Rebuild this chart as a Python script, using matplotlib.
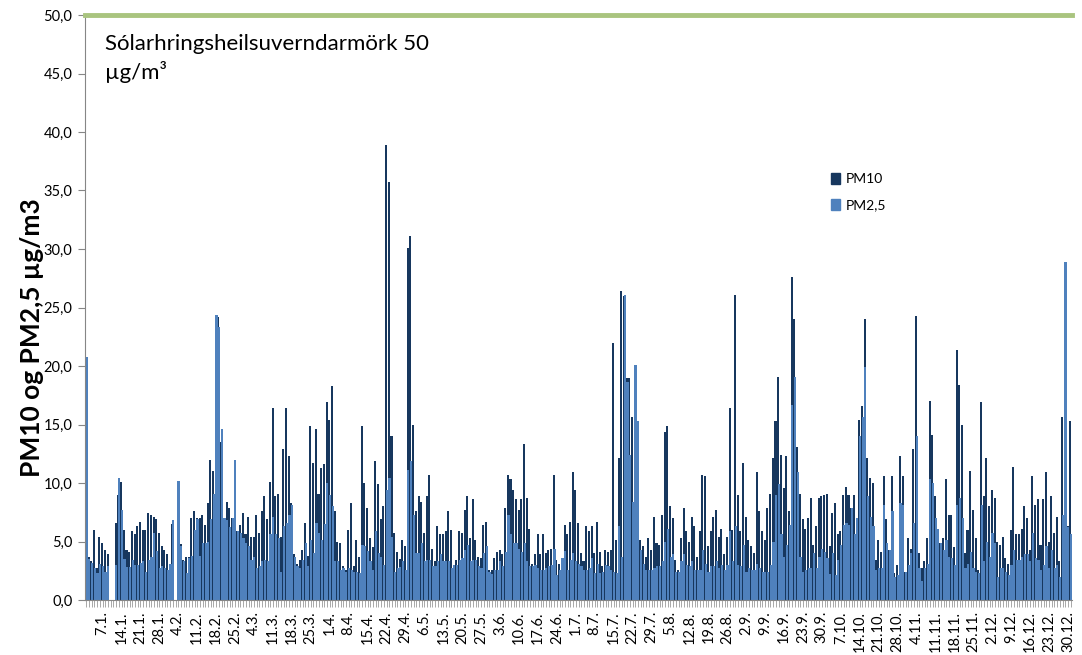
import matplotlib
matplotlib.use('Agg')
import datetime
import numpy as np
import matplotlib.pyplot as plt
from matplotlib.patches import Patch

plt.rcParams['font.family'] = ['Lato', 'DejaVu Sans']

# daily means, one value per day of a non-leap year (0 = no data)
pm10_jan = [18.5, 3.7, 3.3, 6.0, 2.7, 5.4, 4.9, 4.3, 3.9, 0, 0, 6.6, 9.0, 10.1, 6.0, 4.3,
            4.1, 5.9, 5.6, 6.3, 6.7, 6.0, 6.0, 7.4, 7.3, 7.1, 6.9, 5.7, 4.6, 4.3, 3.9]
pm10_feb = [3.1, 6.5, 0, 8.0, 4.8, 3.4, 3.7, 3.7, 7.0, 7.6, 7.0, 7.0, 7.3, 6.4, 8.3, 12.0,
            11.0, 24.0, 24.2, 13.5, 7.0, 8.4, 7.9, 7.0, 10.6, 5.9, 6.4, 7.4]
pm10_mar = [5.6, 7.1, 5.4, 5.4, 7.3, 5.7, 7.6, 8.9, 6.9, 10.1, 16.4, 8.9, 9.1, 5.4, 12.9, 16.4,
            12.3, 8.3, 3.9, 3.1, 3.4, 4.3, 6.6, 3.8, 14.9, 11.7, 14.6, 9.1, 11.3, 11.6, 16.9]
pm10_apr = [15.4, 18.3, 7.6, 5.0, 4.9, 2.9, 2.6, 6.0, 8.3, 2.9, 5.1, 3.7, 14.9, 10.0, 7.9,
            5.3, 4.5, 11.9, 9.9, 6.9, 8.0, 38.9, 35.7, 14.0, 5.7, 4.1, 3.5, 5.1, 4.6, 30.1]
pm10_may = [31.1, 15.0, 7.6, 8.9, 8.4, 5.7, 8.9, 10.7, 4.4, 3.3, 6.3, 5.6, 5.6, 5.9, 7.6, 6.0,
            3.0, 3.4, 5.9, 5.7, 7.7, 8.9, 5.3, 8.6, 5.1, 3.7, 3.6, 6.4, 6.7, 2.6, 2.6]
pm10_jun = [3.6, 4.1, 4.3, 3.9, 7.9, 10.7, 10.3, 9.4, 8.6, 7.7, 8.6, 13.3, 8.7, 6.1, 3.1,
            3.9, 5.6, 3.9, 5.6, 4.0, 4.3, 4.4, 10.7, 3.4, 3.1, 3.6, 6.4, 5.6, 6.7, 10.9]
pm10_jul = [9.4, 6.6, 4.0, 3.3, 6.3, 5.9, 6.3, 4.0, 6.7, 4.1, 2.9, 4.3, 4.1, 4.3, 22.0, 5.1,
            12.1, 26.4, 26.0, 19.0, 19.0, 15.6, 15.0, 14.0, 5.1, 4.6, 3.7, 5.3, 4.3, 7.1, 4.9]
pm10_aug = [4.7, 7.3, 14.4, 14.9, 8.0, 7.0, 3.4, 2.6, 5.3, 7.9, 5.9, 5.0, 7.1, 6.3, 3.7, 5.9,
            10.7, 10.6, 4.6, 5.9, 7.1, 7.7, 5.4, 6.1, 3.9, 5.4, 16.4, 6.0, 26.1, 9.0, 5.9]
pm10_sep = [11.7, 7.1, 5.1, 4.6, 4.0, 10.9, 7.6, 5.9, 5.1, 7.9, 9.1, 12.1, 15.3, 19.1, 12.4,
            9.6, 12.3, 7.6, 27.6, 24.0, 13.1, 9.1, 6.9, 6.1, 7.0, 8.7, 4.7, 6.3, 8.7, 8.9]
pm10_oct = [9.0, 9.1, 4.6, 7.4, 8.3, 5.6, 5.9, 9.0, 9.7, 9.0, 7.9, 9.0, 7.0, 15.4, 16.6, 24.0,
            12.1, 10.4, 10.0, 3.4, 5.1, 4.1, 10.6, 6.9, 4.3, 10.6, 2.3, 3.0, 12.3, 10.6, 2.4]
pm10_nov = [5.3, 4.4, 12.9, 24.3, 4.0, 2.7, 3.3, 5.3, 17.0, 14.1, 8.9, 5.3, 4.9, 5.3, 10.3,
            7.3, 7.3, 4.5, 21.4, 18.4, 15.0, 4.0, 6.0, 11.0, 7.7, 5.3, 2.6, 16.9, 8.9, 12.1]
pm10_dec = [8.0, 9.4, 8.7, 5.0, 4.7, 5.4, 3.6, 3.1, 6.0, 11.4, 5.6, 5.6, 6.1, 8.0, 7.0, 4.3,
            10.6, 8.1, 8.6, 4.7, 8.6, 10.9, 5.0, 8.9, 5.7, 7.1, 3.3, 15.6, 6.0, 6.3, 15.3]

pm25_jan = [20.8, 3.5, 3.2, 2.7, 2.3, 3.1, 2.9, 2.4, 2.9, 0, 0, 3.0, 10.4, 7.7, 3.5, 2.8,
            2.8, 3.4, 3.0, 3.0, 3.2, 3.3, 2.4, 3.4, 3.7, 5.7, 4.2, 2.7, 2.9, 2.7, 2.6]
pm25_feb = [3.1, 6.8, 0, 10.2, 4.6, 3.3, 2.3, 3.6, 3.8, 6.0, 6.9, 3.8, 4.9, 4.9, 5.0, 6.9,
            9.1, 24.4, 23.3, 14.6, 7.0, 6.8, 6.2, 7.0, 12.0, 5.9, 5.7, 5.3]
pm25_mar = [4.9, 4.6, 3.4, 3.7, 2.7, 2.9, 3.3, 3.4, 3.3, 5.6, 7.1, 5.6, 5.3, 2.4, 6.3, 6.6,
            7.3, 8.1, 3.7, 2.9, 2.7, 3.4, 4.9, 2.9, 5.1, 4.0, 6.6, 5.7, 5.1, 6.5, 10.0]
pm25_apr = [9.0, 8.0, 3.3, 3.3, 2.6, 2.7, 2.4, 2.7, 2.6, 2.4, 2.4, 2.3, 4.7, 4.6, 4.2, 3.3,
            2.6, 5.9, 4.0, 3.7, 3.0, 9.4, 10.4, 5.4, 2.4, 2.7, 2.8, 3.3, 2.6, 11.1]
pm25_may = [11.9, 7.3, 4.0, 4.0, 4.9, 3.3, 3.4, 3.4, 2.9, 2.9, 3.3, 3.9, 3.3, 3.3, 3.3, 2.7,
            3.0, 3.0, 3.4, 3.6, 4.3, 4.7, 3.3, 3.4, 3.4, 2.9, 2.7, 4.0, 4.6, 2.4, 2.2]
pm25_jun = [2.6, 2.6, 3.3, 2.9, 4.1, 7.3, 5.6, 4.9, 4.9, 4.4, 4.1, 4.9, 3.3, 2.9, 2.9, 3.0,
            2.7, 2.6, 2.6, 2.7, 2.9, 3.0, 4.4, 2.1, 2.6, 3.6, 4.2, 2.6, 3.4, 4.0]
pm25_jul = [3.3, 3.1, 2.9, 2.6, 2.6, 2.7, 3.6, 2.3, 3.1, 2.3, 2.4, 3.0, 2.9, 2.6, 2.4, 2.3,
            6.3, 3.7, 26.1, 18.6, 12.4, 8.4, 20.1, 15.3, 4.3, 3.1, 2.6, 2.6, 2.6, 2.7, 2.9]
pm25_aug = [2.9, 3.3, 5.0, 6.1, 3.7, 3.9, 2.4, 2.4, 3.3, 3.9, 3.0, 2.9, 3.3, 2.6, 2.6, 2.6,
            4.3, 3.1, 2.4, 2.9, 2.9, 3.3, 2.7, 3.0, 2.6, 3.0, 5.9, 3.3, 6.3, 3.0, 2.9]
pm25_sep = [4.7, 2.4, 2.7, 2.6, 2.6, 3.1, 2.7, 2.4, 2.4, 2.4, 3.0, 5.0, 9.0, 9.9, 5.6, 3.7,
            4.7, 6.4, 16.7, 19.1, 10.9, 3.7, 2.4, 2.6, 2.7, 2.7, 4.0, 2.7, 3.7, 4.4]
pm25_oct = [4.1, 3.6, 2.2, 4.0, 2.1, 3.4, 4.7, 6.4, 6.6, 6.4, 7.9, 5.6, 7.0, 14.0, 15.6, 19.9,
            8.9, 7.1, 6.3, 2.6, 2.7, 2.7, 8.1, 4.9, 4.3, 7.6, 2.0, 2.1, 8.3, 8.1, 2.4]
pm25_nov = [3.0, 4.0, 6.6, 14.0, 2.7, 1.6, 2.7, 3.1, 10.3, 10.0, 7.0, 6.1, 4.9, 4.3, 5.1,
            3.7, 3.6, 3.0, 8.1, 8.7, 7.0, 2.7, 3.1, 4.1, 2.7, 2.4, 2.3, 8.1, 3.3, 5.0]
pm25_dec = [3.7, 5.7, 4.9, 2.0, 2.7, 2.7, 2.4, 2.1, 3.0, 4.3, 3.4, 3.4, 3.7, 3.9, 3.9, 3.3,
            5.7, 3.6, 3.4, 2.6, 3.0, 4.6, 2.7, 4.3, 2.7, 3.0, 2.0, 7.3, 28.9, 6.2, 5.6]

pm10 = np.array(pm10_jan + pm10_feb + pm10_mar + pm10_apr + pm10_may + pm10_jun
                + pm10_jul + pm10_aug + pm10_sep + pm10_oct + pm10_nov + pm10_dec)
pm25 = np.array(pm25_jan + pm25_feb + pm25_mar + pm25_apr + pm25_may + pm25_jun
                + pm25_jul + pm25_aug + pm25_sep + pm25_oct + pm25_nov + pm25_dec)

limit = 50.0
days = np.arange(1, len(pm10) + 1)
tick_days = list(range(7, 366, 7))
first = datetime.date(2013, 1, 1)
tick_labels = []
for k in tick_days:
    d = first + datetime.timedelta(days=k - 1)
    tick_labels.append(f"{d.day}.{d.month}.")

fig = plt.figure(figsize=(10.82, 6.55), dpi=100)
ax = fig.add_axes([85 / 1082, 1 - 600 / 655, 987 / 1082, 585 / 655])

ax.bar(days - 0.15, pm10, width=0.75, color='#17375e', linewidth=0, label='PM10')
ax.bar(days + 0.1, pm25, width=0.8, color='#4f81bd', linewidth=0, label='PM2,5')
ax.axhline(limit, color='#a9c47f', lw=3.5, zorder=5, clip_on=False)

ax.set_xlim(0.5, 365.5)
ax.set_ylim(0, 50)
yt = np.arange(0, 51, 5)
ax.set_yticks(yt)
ax.set_yticklabels([f"{v:.1f}".replace('.', ',') for v in yt], fontsize=10.5)
ax.set_xticks(tick_days)
ax.set_xticklabels(tick_labels, rotation=90, fontsize=10.5)
ax.set_xticks(days, minor=True)

for s in ['top', 'right']:
    ax.spines[s].set_visible(False)
for s in ['left', 'bottom']:
    ax.spines[s].set_color('#868686')
ax.tick_params(axis='y', length=5, color='#868686', pad=4)
ax.tick_params(axis='x', which='both', length=5, width=0.6, color='#9a9a9a', pad=3)

fig.text(32 / 1082, 1 - 338 / 655, 'PM10 og PM2,5 µg/m3', rotation=90,
         fontsize=19, fontweight='bold', ha='center', va='center')

fig.text(105 / 1082, 1 - 34 / 655, 'Sólarhringsheilsuverndarmörk 50\nµg/m³',
         fontsize=16, va='top', ha='left', linespacing=1.4)

handles = [Patch(color='#17375e'), Patch(color='#4f81bd')]
fig.legend(handles, ['PM10', 'PM2,5'], loc='upper left',
           bbox_to_anchor=(818 / 1082, 1 - 160 / 655), frameon=False, fontsize=10,
           handlelength=0.7, handleheight=0.9, labelspacing=1.0, handletextpad=0.4)

fig.savefig('out.png', dpi=100)
